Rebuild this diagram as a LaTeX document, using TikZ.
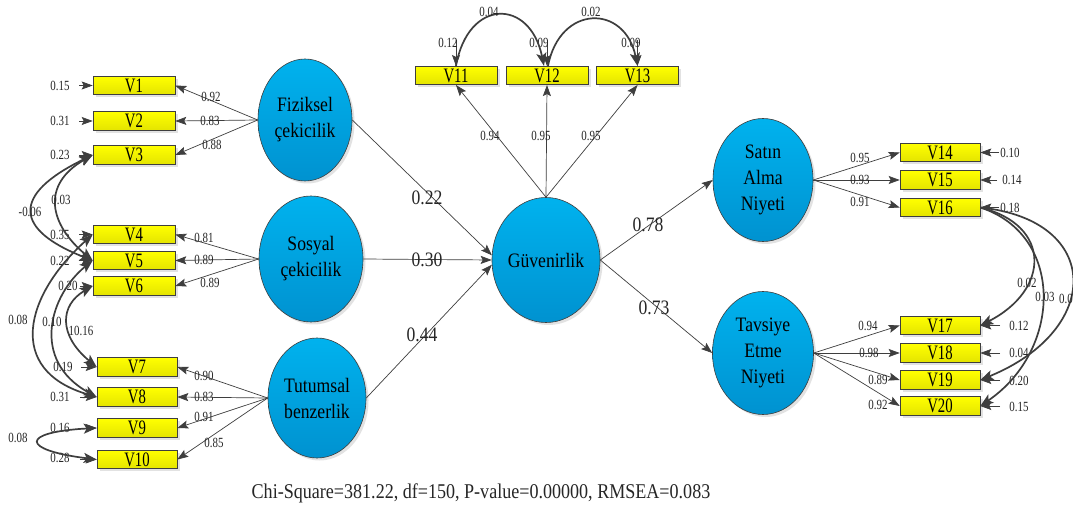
\documentclass[tikz,border=0pt]{standalone}
\usepackage{fontspec}
\setmainfont{Liberation Serif}[FakeStretch=0.86]
\newfontfamily\narrowfont{Liberation Serif}[FakeStretch=0.78]
\newfontfamily\boxfont{Liberation Serif}[FakeStretch=0.72]
\usetikzlibrary{arrows.meta,shapes.geometric,shadows}
\definecolor{ellT}{RGB}{0,178,238}
\definecolor{ellB}{RGB}{0,146,208}
\definecolor{boxT}{RGB}{255,255,0}
\definecolor{boxB}{RGB}{228,228,0}
\definecolor{ln}{RGB}{62,62,62}
\begin{document}
\begin{tikzpicture}[x=1pt,y=-1pt,
  lat/.style={ellipse, draw=ln, line width=0.6pt, top color=ellT, bottom color=ellB,
    inner sep=0pt, align=center, font=\fontsize{20.5}{26}\selectfont,
    drop shadow={shadow xshift=2.5pt,shadow yshift=-2.5pt,fill=black!22}},
  obs/.style={rectangle, draw=ln, line width=0.6pt, top color=boxT, bottom color=boxB,
    minimum width=82pt, minimum height=18.5pt, inner sep=0pt,
    font=\boxfont\fontsize{20.5}{20}\selectfont,
    drop shadow={shadow xshift=2.5pt,shadow yshift=-2.5pt,fill=black!22}},
  obsn/.style={obs, minimum width=80pt},
  sm/.style={font=\narrowfont\fontsize{14}{14}\selectfont, inner sep=0pt, text=black!85},
  big/.style={font=\fontsize{20.5}{20}\selectfont, inner sep=0pt, text=black!85},
  load/.style={draw=ln, line width=0.7pt, -{Stealth[length=11pt,width=8pt,inset=2pt]}},
  cov/.style={draw=ln, line width=1.7pt, -{Stealth[length=13pt,width=10pt,inset=3pt]}},
  covb/.style={draw=ln, line width=1.7pt, {Stealth[length=13pt,width=10pt,inset=3pt]}-{Stealth[length=13pt,width=10pt,inset=3pt]}}
]
\useasboundingbox (0,0) rectangle (1073,510);
\fill[white] (0,0) rectangle (1073,510);

% latent variables
\node[lat, minimum width=94pt, minimum height=122pt] (FC) at (305,120) {Fiziksel\\çekicilik};
\node[lat, minimum width=104pt, minimum height=126pt] (SC) at (311,259) {Sosyal\\çekicilik};
\node[lat, minimum width=98pt, minimum height=120pt] (TB) at (317,398) {Tutumsal\\benzerlik};
\node[lat, minimum width=101pt, minimum height=125pt] (GV) at (546,260) {Güvenirlik};
\node[lat, minimum width=100pt, minimum height=123pt] (SA) at (763,180) {Satın\\Alma\\Niyeti};
\node[lat, minimum width=101pt, minimum height=123pt] (TE) at (763,353) {Tavsiye\\Etme\\Niyeti};

% observed variables
\node[obs] (V1) at (134,85.5) {V1};
\node[obs] (V2) at (134,121) {V2};
\node[obs] (V3) at (134,155) {V3};
\node[obs] (V4) at (134,234.5) {V4};
\node[obs] (V5) at (134,260.5) {V5};
\node[obs] (V6) at (134,286) {V6};
\node[obsn] (V7) at (137,367) {V7};
\node[obsn] (V8) at (137,397) {V8};
\node[obsn] (V9) at (137,428) {V9};
\node[obsn] (V10) at (137,459.5) {V10};
\node[obs] (V11) at (456,75.5) {V11};
\node[obs] (V12) at (547,75.5) {V12};
\node[obs] (V13) at (637.5,75.5) {V13};
\node[obsn] (V14) at (940,152.5) {V14};
\node[obsn] (V15) at (940,180) {V15};
\node[obsn] (V16) at (940,207.5) {V16};
\node[obsn] (V17) at (940,325.5) {V17};
\node[obsn] (V18) at (940,353) {V18};
\node[obsn] (V19) at (940,380) {V19};
\node[obsn] (V20) at (940,406) {V20};

% loadings
\draw[load] (FC.west) -- (V1.east);
\draw[load] (FC.west) -- (V2.east);
\draw[load] (FC.west) -- (V3.east);
\draw[load] (SC.west) -- (V4.east);
\draw[load] (SC.west) -- (V5.east);
\draw[load] (SC.west) -- (V6.east);
\draw[load] (TB.west) -- (V7.east);
\draw[load] (TB.west) -- (V8.east);
\draw[load] (TB.west) -- (V9.east);
\draw[load] (TB.west) -- (V10.east);
\draw[load] (GV.north) -- (V11.south);
\draw[load] (GV.north) -- (V12.south);
\draw[load] (GV.north) -- (V13.south);
\draw[load] (SA.east) -- (V14.west);
\draw[load] (SA.east) -- (V15.west);
\draw[load] (SA.east) -- (V16.west);
\draw[load] (TE.east) -- (V17.west);
\draw[load] (TE.east) -- (V18.west);
\draw[load] (TE.east) -- (V19.west);
\draw[load] (TE.east) -- (V20.west);

\node[sm] at (211,97) {0.92};
\node[sm] at (210,121) {0.83};
\node[sm] at (212,145) {0.88};
\node[sm] at (204,238) {0.81};
\node[sm] at (204,260) {0.89};
\node[sm] at (210,283) {0.89};
\node[sm] at (204,376) {0.90};
\node[sm] at (204,397) {0.83};
\node[sm] at (204,417) {0.91};
\node[sm] at (214,443) {0.85};
\node[sm] at (490,136) {0.94};
\node[sm] at (541,136) {0.95};
\node[sm] at (591,136) {0.95};
\node[sm] at (860,158) {0.95};
\node[sm] at (860,180) {0.93};
\node[sm] at (860,202) {0.91};
\node[sm] at (868,326) {0.94};
\node[sm] at (869,353) {0.98};
\node[sm] at (878,380) {0.89};
\node[sm] at (878,405) {0.92};

% structural paths
\draw[load] (FC.east) -- (GV.175);
\draw[load] (SC.east) -- (GV.west);
\draw[load] (TB.east) -- (GV.185);
\draw[load] (GV.east) -- (SA.west);
\draw[load] (GV.east) -- (TE.west);
\node[big] at (427,198) {0.22};
\node[big] at (427,260) {0.30};
\node[big] at (422,335) {0.44};
\node[big] at (648,225) {0.78};
\node[big] at (654,308) {0.73};

% error terms, left
\coordinate (e1) at (79,85.5);
\coordinate (e2) at (79,121);
\coordinate (e3) at (79,155);
\coordinate (e4) at (79,234.5);
\coordinate (e5) at (79,260.5);
\coordinate (e6) at (80,286);
\coordinate (e7) at (81,367);
\coordinate (e8) at (80,397);
\coordinate (e9) at (80,428);
\coordinate (e10) at (80,459.5);
\foreach \i in {1,...,10} {\draw[load] (e\i) -- (V\i.west);}
\node[sm] at (60,85.5) {0.15};
\node[sm] at (60,121) {0.31};
\node[sm] at (60,155) {0.23};
\node[sm] at (60,234.5) {0.35};
\node[sm] at (60,260.5) {0.22};
\node[sm] at (68,286) {0.20};
\node[sm] at (63,367) {0.19};
\node[sm] at (60,397) {0.31};
\node[sm] at (60,428) {0.16};
\node[sm] at (60,458) {0.28};

% error terms, top
\coordinate (e11) at (456,40);
\coordinate (e12) at (547,40);
\coordinate (e13) at (637.5,40);
\foreach \i in {11,12,13} {\draw[load] (e\i) -- (V\i.north);}
\node[sm] at (448,43) {0.12};
\node[sm] at (539,43) {0.09};
\node[sm] at (631,43) {0.09};

% error terms, right
\coordinate (e14) at (999,152.5);
\coordinate (e15) at (997,180);
\coordinate (e16) at (999,207.5);
\coordinate (e17) at (1000,325.5);
\coordinate (e18) at (1000,353);
\coordinate (e19) at (1000,380);
\coordinate (e20) at (1000,406);
\foreach \i in {14,...,20} {\draw[load] (e\i) -- (V\i.east);}
\node[sm] at (1010,152.5) {0.10};
\node[sm] at (1012,180) {0.14};
\node[sm] at (1010,207.5) {0.18};
\node[sm] at (1019,326) {0.12};
\node[sm] at (1019,353) {0.04};
\node[sm] at (1019,381) {0.20};
\node[sm] at (1019,407) {0.15};

% error covariances, left
\draw[covb] (V3.west) .. controls (10,195) and (15,230) .. (V5.west);
\draw[covb] (V3.west) .. controls (40,185) and (50,225) .. (V5.west);
\draw[covb] (V4.west) .. controls (25,295) and (5,370) .. (V8.west);
\draw[covb] (V5.west) .. controls (50,295) and (30,360) .. (V8.west);
\draw[covb] (V6.west) .. controls (60,305) and (58,335) .. (V7.west);
\draw[covb] (V9.west) .. controls (20,432) and (20,450) .. (V10.west);
\node[sm] at (30,212) {-0.06};
\node[sm] at (61,200) {0.03};
\node[sm] at (18,320) {0.08};
\node[sm] at (52,322) {0.10};
\node[sm] at (81,331) {10.16};
\node[sm] at (18,438) {0.08};

% error covariances, top
\draw[cov] (V11.north) .. controls (468,-2) and (530,-2) .. ([xshift=-3pt]V12.north);
\draw[cov] ([xshift=1pt]V12.north) .. controls (560,4) and (625,4) .. (V13.north);
\node[sm] at (489,12) {0.04};
\node[sm] at (591,12) {0.02};

% error covariances, right
\draw[cov] (V16.east) .. controls (1052,225) and (1050,290) .. (V17.east);
\draw[cov] (V16.east) .. controls (1065,235) and (1062,350) .. (V20.east);
\draw[cov] (V16.east) .. controls (1103,220) and (1103,330) .. (V19.east);
\node[sm] at (1027,283) {0.02};
\node[sm] at (1045,297) {0.03};
\node[sm, anchor=west] at (1059,299) {0.0};

% fit statistics
\node[font=\fontsize{21}{21}\selectfont, inner sep=0pt, text=black!85] (fit) at (481,493)
  {Chi-Square=381.22, df=150, P-value=0.00000, RMSEA=0.083};
\end{tikzpicture}
\end{document}
